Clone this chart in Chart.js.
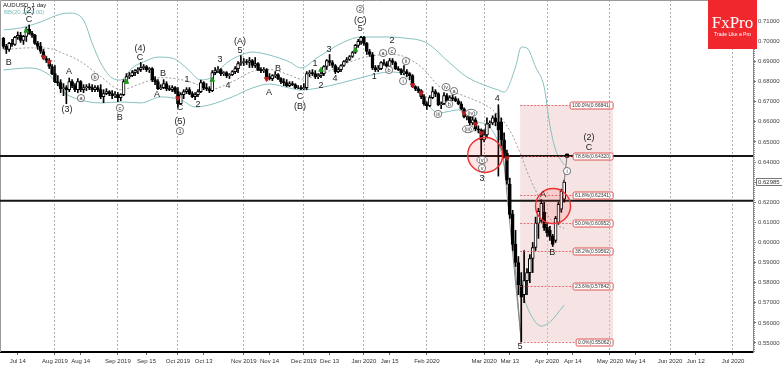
<!DOCTYPE html>
<html><head><meta charset="utf-8">
<script src="https://cdn.jsdelivr.net/npm/chart.js@4/dist/chart.umd.min.js"></script>
<style>html,body{margin:0;padding:0;background:#fff;overflow:hidden}#wrap{width:782px;height:366px;position:relative}</style>
</head><body><div id="wrap"><canvas id="c" width="782" height="366"></canvas></div>
<script>
// ---- daily bars [open, high, low, close], one trading day per entry ----
const jul2019 = [[.7015,.7020,.6965,.6975],[.6975,.6985,.6940,.6960],[.6960,.6995,.6950,.6990],[.6990,.7010,.6975,.6985],[.6985,.7025,.6980,.7020],[.7020,.7047,.7010,.7030],[.7030,.7045,.6995,.7005],[.7005,.7030,.6985,.7025],[.7025,.7070,.7000,.7060],[.7060,.7082,.7035,.7040],[.7040,.7050,.7020,.7030],[.7030,.7035,.6985,.6990],[.6990,.7000,.6960,.6975],[.6975,.6995,.6940,.6950],[.6950,.6960,.6910,.6915],[.6915,.6925,.6895,.6905],[.6905,.6915,.6865,.6875],[.6875,.6885,.6835,.6840]];
const aug2019 = [[.6840,.6880,.6795,.6800],[.6800,.6830,.6780,.6795],[.6795,.6810,.6745,.6765],[.6765,.6790,.6730,.6770],[.6770,.6780,.6690,.6760],[.6760,.6818,.6750,.6800],[.6800,.6810,.6770,.6780],[.6780,.6790,.6750,.6760],[.6760,.6815,.6745,.6800],[.6800,.6805,.6750,.6760],[.6760,.6785,.6745,.6770],[.6770,.6785,.6755,.6775],[.6775,.6790,.6760,.6770],[.6770,.6785,.6750,.6760],[.6760,.6780,.6750,.6770],[.6770,.6780,.6750,.6760],[.6760,.6785,.6715,.6725],[.6725,.6760,.6695,.6740],[.6740,.6765,.6735,.6750],[.6750,.6755,.6730,.6740],[.6740,.6755,.6715,.6730],[.6730,.6750,.6720,.6735]];
const sep2019 = [[.6735,.6745,.6700,.6720],[.6720,.6740,.6705,.6735],[.6735,.6810,.6730,.6800],[.6800,.6840,.6795,.6825],[.6825,.6845,.6815,.6830],[.6830,.6855,.6825,.6845],[.6845,.6860,.6830,.6855],[.6855,.6870,.6840,.6860],[.6860,.6895,.6850,.6870],[.6870,.6885,.6860,.6875],[.6875,.6880,.6850,.6860],[.6860,.6870,.6845,.6865],[.6865,.6870,.6800,.6810],[.6810,.6825,.6785,.6800],[.6800,.6810,.6760,.6765],[.6765,.6785,.6760,.6770],[.6770,.6810,.6765,.6790],[.6790,.6800,.6755,.6765],[.6765,.6780,.6755,.6760],[.6760,.6780,.6750,.6770],[.6770,.6775,.6740,.6750]];
const oct2019 = [[.6750,.6770,.6672,.6690],[.6690,.6745,.6685,.6735],[.6735,.6760,.6715,.6750],[.6750,.6770,.6740,.6760],[.6760,.6770,.6735,.6740],[.6740,.6750,.6720,.6725],[.6725,.6745,.6710,.6735],[.6735,.6760,.6725,.6750],[.6750,.6808,.6745,.6795],[.6795,.6800,.6760,.6770],[.6770,.6790,.6755,.6765],[.6765,.6775,.6745,.6755],[.6755,.6855,.6750,.6845],[.6845,.6870,.6835,.6855],[.6855,.6875,.6845,.6860],[.6860,.6865,.6830,.6840],[.6840,.6850,.6830,.6845],[.6845,.6850,.6820,.6830],[.6830,.6840,.6815,.6835],[.6835,.6855,.6830,.6850],[.6850,.6875,.6840,.6865],[.6865,.6900,.6845,.6890],[.6890,.6929,.6880,.6895]];
const nov2019 = [[.6895,.6915,.6880,.6900],[.6900,.6910,.6885,.6895],[.6895,.6920,.6870,.6905],[.6905,.6910,.6870,.6880],[.6880,.6920,.6870,.6890],[.6890,.6895,.6855,.6860],[.6860,.6870,.6845,.6855],[.6855,.6870,.6845,.6860],[.6860,.6865,.6815,.6825],[.6825,.6840,.6808,.6815],[.6815,.6835,.6805,.6830],[.6830,.6850,.6820,.6835],[.6835,.6840,.6810,.6815],[.6815,.6820,.6790,.6800],[.6800,.6815,.6780,.6795],[.6795,.6810,.6775,.6780],[.6780,.6800,.6775,.6790],[.6790,.6800,.6780,.6785],[.6785,.6790,.6765,.6770],[.6770,.6780,.6765,.6770],[.6770,.6780,.6760,.6765]];
const dec2019 = [[.6765,.6790,.6760,.6770],[.6770,.6850,.6760,.6840],[.6840,.6855,.6825,.6845],[.6845,.6860,.6830,.6840],[.6840,.6855,.6815,.6825],[.6825,.6840,.6815,.6830],[.6830,.6850,.6820,.6840],[.6840,.6880,.6830,.6875],[.6875,.6910,.6860,.6905],[.6905,.6935,.6880,.6895],[.6895,.6905,.6870,.6880],[.6880,.6885,.6840,.6850],[.6850,.6870,.6845,.6860],[.6860,.6885,.6850,.6880],[.6880,.6905,.6875,.6900],[.6900,.6920,.6895,.6910],[.6910,.6930,.6905,.6925],[.6925,.6950,.6920,.6945],[.6945,.6985,.6940,.6980],[.6980,.7010,.6970,.7000],[.7000,.7025,.6985,.7020]];
const jan2020 = [[.7020,.7025,.6980,.6990],[.6990,.6995,.6935,.6950],[.6950,.6960,.6925,.6935],[.6935,.6945,.6860,.6870],[.6870,.6880,.6850,.6860],[.6860,.6880,.6850,.6865],[.6865,.6900,.6860,.6895],[.6895,.6910,.6880,.6890],[.6890,.6900,.6870,.6875],[.6875,.6915,.6865,.6905],[.6905,.6915,.6885,.6895],[.6895,.6900,.6860,.6865],[.6865,.6875,.6855,.6860],[.6860,.6865,.6835,.6845],[.6845,.6880,.6835,.6850],[.6850,.6860,.6825,.6840],[.6840,.6845,.6810,.6830],[.6830,.6835,.6770,.6775],[.6775,.6780,.6755,.6765],[.6765,.6775,.6745,.6755],[.6755,.6760,.6715,.6725],[.6725,.6735,.6682,.6690]];
const feb2020 = [[.6690,.6700,.6662,.6680],[.6680,.6730,.6675,.6720],[.6720,.6774,.6715,.6750],[.6750,.6760,.6725,.6740],[.6740,.6745,.6680,.6685],[.6685,.6700,.6665,.6690],[.6690,.6745,.6685,.6730],[.6730,.6740,.6700,.6705],[.6705,.6730,.6700,.6720],[.6720,.6735,.6705,.6715],[.6715,.6725,.6700,.6705],[.6705,.6715,.6685,.6690],[.6690,.6700,.6660,.6665],[.6665,.6670,.6620,.6625],[.6625,.6645,.6610,.6640],[.6640,.6645,.6585,.6595],[.6595,.6625,.6585,.6610],[.6610,.6620,.6555,.6565],[.6565,.6580,.6545,.6560],[.6560,.6565,.6434,.6510]];
const mar2020 = [[.6510,.6560,.6500,.6535],[.6535,.6620,.6520,.6590],[.6590,.6605,.6570,.6595],[.6595,.6630,.6585,.6620],[.6620,.6640,.6580,.6600],[.6600,.6685,.6330,.6560],[.6600,.6620,.6480,.6510],[.6510,.6545,.6420,.6445],[.6445,.6460,.6290,.6310],[.6290,.6320,.6120,.6140],[.6140,.6160,.5960,.5990],[.5990,.6060,.5880,.5900],[.5900,.5930,.5740,.5790],[.5788,.5850,.5506,.5728],[.5740,.5960,.5700,.5810],[.5810,.5870,.5740,.5850],[.5850,.5940,.5800,.5920],[.5920,.6000,.5850,.5975],[.5975,.6126,.5960,.6095],[.6095,.6170,.6020,.6155],[.6110,.6213,.6100,.6195],[.6150,.6200,.6060,.6072]];
const apr2020 = [[.6077,.6100,.6030,.6047],[.6060,.6080,.6010,.6030],[.6030,.6040,.5980,.5990],[.6010,.6130,.6000,.6120],[.6100,.6200,.6090,.6190],[.6165,.6265,.6150,.6255],[.6215,.6310,.6200,.6300]];

// ---- Bollinger band readings [trading-day index, price] ----
const bbUpper = [[0,.7057],[6,.7067],[13,.7097],[20,.7136],[23,.7141],[28,.7106],[31,.6992],[34,.6893],[38,.6818],[41,.6808],[45,.6868],[49,.6898],[54,.6922],[59,.6917],[64,.6868],[69,.6808],[73,.6823],[78,.6893],[83,.6932],[87,.6947],[93,.6932],[100,.6898],[104,.6868],[110,.6922],[119,.6997],[125,.7022],[133,.7022],[140,.7017],[148,.6992],[156,.6893],[162,.6823],[168,.6783],[173,.6758],[175,.6748],[179,.6873],[181,.6972],[183,.6967],[186,.6873],[189,.6773],[191,.6584],[193,.6460],[196,.6385]];
const bbMiddle = [[0,.6958],[9,.6968],[16,.6965],[21,.6940],[27,.6900],[34,.6825],[41,.6760],[48,.6790],[55,.6820],[62,.6810],[67,.6790],[72,.6760],[80,.6800],[87,.6850],[93,.6860],[100,.6833],[104,.6813],[110,.6830],[118,.6880],[126,.6920],[135,.6935],[140,.6925],[147,.6860],[152,.6780],[159,.6740],[166,.6700],[170,.6670],[175,.6600],[178,.6530],[181,.6430],[184,.6320],[187,.6230],[190,.6140],[193,.6090],[196,.6070]];
const bbLower = [[0,.6858],[9,.6868],[16,.6833],[21,.6748],[27,.6709],[34,.6694],[41,.6699],[48,.6694],[55,.6724],[62,.6709],[67,.6674],[72,.6684],[80,.6724],[87,.6768],[93,.6788],[100,.6768],[104,.6758],[110,.6768],[118,.6793],[126,.6823],[135,.6848],[140,.6833],[147,.6709],[152,.6644],[159,.6659],[166,.6599],[170,.6574],[175,.6385],[178,.6062],[181,.5788],[182,.5724],[185,.5624],[188,.5584],[191,.5604],[196,.5689]];

// ---- signal arrows [index, price] ----
const buySignals = [[8,.7052],[43,.6798],[73,.6808],[111,.6858],[123,.6957]];
const sellSignals = [[14,.6922],[16,.6898],[61,.6718],[92,.6813],[143,.6783],[146,.6743],[161,.6644],[165,.6589],[167,.6544],[176,.6420]];

// ---- horizontal levels, circles, wave lines, projection ----
const levelLines = [0.6430, 0.6207];
const circleCenters = [[168.4,.6435],[192.1,.6181]];
const waveLineA = [[173,.6685],[181,.5506]];
const waveLineB = [[175,.6545],[181,.5506]];
const projection = [[196,.6300],[197,.6432]];

// ---- Fibonacci retracement ----
const fibRange = [180.6, 213.1];
const fibPct = ["100.0%","78.6%","61.8%","50.0%","38.2%","23.6%","0.0%"];
const fibPrice = [0.66841,0.64320,0.62341,0.60952,0.59562,0.57842,0.55062];

// ---- wave labels [index, price, text, circled] ----
const waveLabels = [
[1.9,.6893,"B",0],[8.9,.7107,"C",0],[8.9,.7156,"(2)",0],[22.9,.6848,"A",0],[22.2,.6659,"(3)",0],
[27.1,.6718,"a",1],[32.0,.6823,"b",1],[40.7,.6669,"c",1],[40.7,.6619,"B",0],
[47.7,.6967,"(4)",0],[47.7,.6922,"C",0],[53.7,.6738,"A",0],[55.8,.6838,"B",0],
[64.2,.6808,"1",0],[61.7,.6669,"C",0],[61.7,.6604,"(5)",0],[61.7,.6554,"1",1],
[68.0,.6684,"2",0],[75.7,.6908,"3",0],[78.5,.6783,"4",0],[82.7,.6957,"5",0],[82.7,.6997,"(A)",0],
[92.8,.6748,"A",0],[96.0,.6863,"B",0],[103.7,.6728,"C",0],[103.7,.6674,"(B)",0],
[108.9,.6888,"1",0],[111.0,.6783,"2",0],[113.8,.6962,"3",0],[115.9,.6813,"4",0],
[124.7,.7062,"5",0],[124.7,.7102,"(C)",0],[124.7,.7161,"2",1],
[129.6,.6823,"1",0],[132.7,.6942,"a",1],[134.8,.6858,"b",1],[135.8,.6952,"c",1],[135.8,.7002,"2",0],
[139.7,.6803,"i",1],[140.7,.6902,"ii",1],[151.9,.6639,"iii",1],[154.7,.6773,"iv",1],[157.5,.6753,"a",1],[155.8,.6689,"b",1],
[163.5,.6644,"(iv)",1],[162.4,.6564,"(iii)",1],[167.3,.6410,"(v)",1],[167.3,.6370,"v",1],[167.3,.6320,"3",0],
[172.6,.6718,"4",0],[180.6,.5480,"5",0],[188.6,.6236,"A",0],[191.8,.5952,"B",0],[197.0,.6355,"i",1],
[204.7,.6524,"(2)",0],[204.7,.6470,"C",0]];

// ---- axes ----
const xTickPos = [5,18,27,40,50,61,70,84,93,105,114,126,135,148,168,177,190,199,212,221,233,242,255];
const xTickLabels = ["Jul 14","Aug 2019","Aug 14","Sep 2019","Sep 15","Oct 2019","Oct 13","Nov 2019","Nov 14","Dec 2019","Dec 13","Jan 2020","Jan 15","Feb 2020","Mar 2020","Mar 13","Apr 2020","Apr 14","May 2020","May 14","Jun 2020","Jun 12","Jul 2020"];
const yTickValues = [0.55,0.56,0.57,0.58,0.59,0.60,0.61,0.62,0.63,0.64,0.65,0.66,0.67,0.68,0.69,0.70,0.71];
const currentPrice = 0.62985;
const xRange = [-1.2, 262];
const yRange = [0.5455, 0.7206];

const candles = [].concat(jul2019,aug2019,sep2019,oct2019,nov2019,dec2019,jan2020,feb2020,mar2020,apr2020);
const pts = a => a.map(p => ({x:p[0], y:p[1]}));
const FONT = "'Liberation Sans', Arial, sans-serif";

const annot = {
  id: 'annot',
  beforeDatasetsDraw(chart){
    const {ctx, chartArea:ca, scales:{x,y}} = chart;
    ctx.save();
    const x0 = x.getPixelForValue(fibRange[0]), x1 = x.getPixelForValue(fibRange[1]);
    const yt = y.getPixelForValue(fibPrice[0]), yb = y.getPixelForValue(fibPrice[fibPrice.length-1]);
    ctx.fillStyle = 'rgba(236,196,196,0.45)';
    ctx.fillRect(x0, yt, x1-x0, yb-yt);
    ctx.strokeStyle = '#9a9a9a'; ctx.lineWidth = 1;
    ctx.beginPath(); ctx.moveTo(ca.left+0.5, ca.bottom); ctx.lineTo(ca.left+0.5, ca.top+0.5); ctx.lineTo(ca.right, ca.top+0.5); ctx.stroke();
    ctx.restore();
  },
  afterDatasetsDraw(chart){
    const {ctx, scales:{x,y}} = chart;
    ctx.save();
    const x0 = x.getPixelForValue(fibRange[0]), x1 = x.getPixelForValue(fibRange[1]);
    ctx.font = '5px ' + FONT;
    fibPrice.forEach((p,i)=>{
      const py = Math.round(y.getPixelForValue(p)) + 0.5;
      const txt = fibPct[i] + '(' + p.toFixed(5) + ')';
      const w = Math.ceil(ctx.measureText(txt).width) + 4;
      ctx.strokeStyle = 'rgba(225,80,80,0.8)'; ctx.setLineDash([2,1.5]); ctx.lineWidth = 1;
      ctx.beginPath(); ctx.moveTo(x0, py); ctx.lineTo(x1 - w, py); ctx.stroke();
      ctx.setLineDash([]);
      ctx.fillStyle = '#fff'; ctx.strokeStyle = '#e05050';
      ctx.beginPath(); ctx.roundRect(x1 - w, py - 3.5, w, 7, 1.5); ctx.fill(); ctx.stroke();
      ctx.fillStyle = '#333'; ctx.textAlign = 'left'; ctx.textBaseline = 'middle';
      ctx.fillText(txt, x1 - w + 2, py + 0.5);
    });
    waveLabels.forEach(l=>{
      const px = x.getPixelForValue(l[0]), py = y.getPixelForValue(l[1]);
      ctx.textAlign = 'center'; ctx.textBaseline = 'middle';
      if (l[3]) {
        ctx.font = '5.5px ' + FONT;
        const tw = ctx.measureText(l[2]).width;
        const rx = Math.max(3.6, tw/2 + 2), ry = 3.6;
        ctx.fillStyle = '#fff'; ctx.strokeStyle = '#555'; ctx.lineWidth = 0.8;
        ctx.beginPath(); ctx.ellipse(px, py, rx, ry, 0, 0, Math.PI*2); ctx.fill(); ctx.stroke();
        ctx.fillStyle = '#333'; ctx.fillText(l[2], px, py + 0.3);
      } else {
        ctx.font = '9px ' + FONT; ctx.fillStyle = '#222';
        ctx.fillText(l[2], px, py);
      }
    });
    ctx.restore();
  },
  afterDraw(chart){
    const {ctx, chartArea:ca, scales:{y}} = chart;
    ctx.save();
    ctx.strokeStyle = '#8a8a8a'; ctx.lineWidth = 1;
    for (let k = Math.ceil(yRange[0]*1000); k <= Math.floor(yRange[1]*1000); k++) {
      const py = Math.round(y.getPixelForValue(k/1000)) + 0.5;
      ctx.beginPath(); ctx.moveTo(ca.right, py); ctx.lineTo(ca.right + 2, py); ctx.stroke();
    }
    const cy = Math.round(y.getPixelForValue(currentPrice));
    ctx.fillStyle = '#fff'; ctx.strokeStyle = '#777';
    ctx.fillRect(ca.right + 3, cy - 4, 27, 8); ctx.strokeRect(ca.right + 3.5, cy - 3.5, 26, 7);
    ctx.fillStyle = '#333'; ctx.font = '6px ' + FONT; ctx.textBaseline = 'middle'; ctx.textAlign = 'left';
    ctx.fillText(currentPrice.toFixed(5), ca.right + 5, cy + 0.5);
    ctx.font = '6px ' + FONT; ctx.fillStyle = '#222'; ctx.textBaseline = 'top';
    ctx.fillText('AUDUSD, 1 day', 3, 2);
    ctx.font = '6px ' + FONT; ctx.fillStyle = '#7dbcbc';
    ctx.fillText('BB(20,20,2.00)', 4, 9);
    ctx.fillStyle = '#f0282d'; ctx.fillRect(708, 0, 49, 49);
    ctx.fillStyle = '#fff'; ctx.textAlign = 'center'; ctx.textBaseline = 'alphabetic';
    ctx.font = "17px 'Liberation Serif', 'DejaVu Serif', serif";
    ctx.fillText('FxPro', 732.5, 28);
    ctx.font = '5px ' + FONT;
    ctx.fillText('Trade Like a Pro', 732.5, 36);
    ctx.restore();
  }
};

const isMonth = s => /\d{4}/.test(s);

new Chart(document.getElementById('c'), {
  type: 'bar',
  data: {
    datasets: [
      { type:'line', data: pts(bbUpper), borderColor:'#86c0c0', borderWidth:1, pointRadius:0, cubicInterpolationMode:'monotone', order:20 },
      { type:'line', data: pts(bbLower), borderColor:'#86c0c0', borderWidth:1, pointRadius:0, cubicInterpolationMode:'monotone', order:20 },
      { type:'line', data: pts(bbMiddle), borderColor:'#9a9a9a', borderWidth:1, borderDash:[2,2], pointRadius:0, cubicInterpolationMode:'monotone', order:20 },
      ...levelLines.map(v => ({ type:'line', data:[{x:xRange[0]-2,y:v},{x:xRange[1]+2,y:v}], borderColor:'#151515', borderWidth:2, pointRadius:0, order:19 })),
      { type:'line', data: pts(waveLineA), borderColor:'#888', borderWidth:1, pointRadius:0, order:18 },
      { type:'line', data: pts(waveLineB), borderColor:'#888', borderWidth:1, pointRadius:0, order:18 },
      { type:'line', data: pts(projection), borderColor:'#777', borderWidth:1, pointRadius:[0,2.2], pointStyle:'rect', pointBackgroundColor:'#000', pointBorderColor:'#000', order:3 },
      { type:'bar', data: candles.map((c,i)=>({x:i, y:[c[2], c[1]]})), backgroundColor:'#000', barThickness:1, grouped:false, order:10 },
      { type:'bar', data: candles.map((c,i)=>({x:i, y:[c[0], c[3]]})), backgroundColor: candles.map(c => c[3] >= c[0] ? '#fff' : '#000'), borderColor:'#000', borderWidth:1, borderSkipped:false, barThickness:3, grouped:false, order:9 },
      { type:'line', showLine:false, data: pts(buySignals), pointStyle:'triangle', pointRadius:2.6, pointBackgroundColor:'#1f9a1f', pointBorderColor:'#1f9a1f', order:2 },
      { type:'line', showLine:false, data: pts(sellSignals), pointStyle:'triangle', rotation:180, pointRadius:2.6, pointBackgroundColor:'#b51f1f', pointBorderColor:'#b51f1f', order:2 },
      { type:'line', showLine:false, data: pts(circleCenters), pointRadius:17.5, pointBackgroundColor:'rgba(255,60,60,0.13)', pointBorderColor:'#ee3030', pointBorderWidth:1.4, order:1 }
    ]
  },
  options: {
    responsive:false, animation:false, events:[], devicePixelRatio:1,
    layout:{ padding:0, autoPadding:false },
    plugins:{ legend:{display:false}, tooltip:{enabled:false} },
    scales:{
      x:{ type:'linear', min:xRange[0], max:xRange[1], offset:false,
          afterFit(s){ s.height = 14; s.paddingLeft = 0; s.paddingRight = 0; },
          afterBuildTicks(s){ s.ticks = xTickPos.map(v=>({value:v})); },
          ticks:{ autoSkip:false, maxRotation:0, padding:3, font:{size:6, family:FONT}, color:'#333',
                  callback:(v,i)=>xTickLabels[i] },
          grid:{ offset:false, drawOnChartArea:true, tickLength:3, tickColor:'#666', tickBorderDash:[],
                 color: c => (c.tick && isMonth(xTickLabels[c.index] || '')) ? '#b0b0b0' : 'rgba(0,0,0,0)' },
          border:{ color:'#000', width:2, dash:[2,2] } },
      y:{ type:'linear', position:'right', min:yRange[0], max:yRange[1],
          afterFit(s){ s.width = 29; s.paddingTop = 0; s.paddingBottom = 0; },
          afterBuildTicks(s){ s.ticks = yTickValues.map(v=>({value:v})); },
          ticks:{ padding:2, font:{size:6, family:FONT}, color:'#444', callback:v=>v.toFixed(5) },
          grid:{ drawOnChartArea:false, tickLength:3, tickColor:'#777' },
          border:{ color:'#888', width:1 } }
    }
  },
  plugins:[annot]
});
</script></body></html>
